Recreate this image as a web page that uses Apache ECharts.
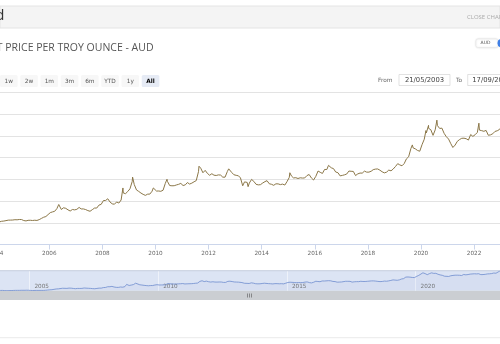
<!DOCTYPE html>
<html><head><meta charset="utf-8">
<script src="https://cdn.jsdelivr.net/npm/echarts@6/dist/echarts.min.js"></script>
<style>html,body{margin:0;padding:0;background:#fff;overflow:hidden}#c{width:500px;height:344px;}</style>
</head><body><div id="c"></div>
<script>
// ---------- DATA ----------
const firstDate = '2003-05-21';
const lastDate = '2023-09-17';
// Gold price per troy ounce in AUD, one reading per month (2003-05 .. 2023-09)
const prices2003 = [545,531,528,553,566,541,548,552];
const prices2004 = [537,519,534,539,549,560,561,563,570,568,575,574];
const prices2005 = [551,542,556,557,552,558,553,572,600,627,643,688];
const prices2006 = [733,750,763,824,900,805,844,832,797,770,805,796];
const prices2007 = [809,853,818,818,804,780,764,801,838,838,906,923];
const prices2008 = [1010,1013,1052,977,935,926,978,953,1023,1185,1169,1218];
const prices2009 = [1280,1450,1379,1254,1221,1183,1153,1130,1158,1159,1225,1261];
const prices2010 = [1229,1230,1223,1248,1401,1449,1356,1350,1352,1369,1384,1405];
const prices2011 = [1356,1372,1424,1390,1411,1442,1469,1675,1754,1650,1705,1636];
const prices2012 = [1592,1628,1594,1587,1601,1596,1548,1549,1677,1696,1656,1604];
const prices2013 = [1591,1580,1532,1350,1428,1428,1413,1497,1451,1385,1371,1376];
const prices2014 = [1414,1446,1468,1397,1385,1361,1395,1394,1377,1389,1367,1446];
const prices2015 = [1543,1573,1531,1536,1518,1534,1528,1530,1585,1610,1530,1483];
const prices2016 = [1567,1690,1661,1634,1726,1724,1783,1764,1745,1667,1651,1578];
const prices2017 = [1589,1603,1620,1689,1684,1680,1585,1624,1643,1641,1687,1664];
const prices2018 = [1664,1685,1721,1734,1737,1709,1673,1647,1664,1711,1694,1736];
const prices2019 = [1793,1859,1831,1810,1861,1970,2017,2206,2221,2199,2162,2145];
const prices2020 = [2294,2420,2566,2671,2640,2510,2637,2733,2668,2676,2556,2479];
const prices2021 = [2425,2318,2231,2286,2372,2413,2442,2445,2432,2401,2529,2486];
const prices2022 = [2524,2578,2631,2618,2603,2624,2512,2521,2547,2600,2615,2644];
const prices2023 = [2711,2688,2854,2985,2971,2899,2869,2951,3000];
// intra-month highs / lows
const spikeDates  = ['2006-05-11','2008-03-17','2008-10-10','2009-02-20','2009-12-02','2010-06-08','2011-08-22','2011-09-06','2012-10-04','2013-04-03','2013-05-10','2013-06-28','2015-01-23','2016-07-08','2019-09-04','2020-03-09','2020-04-14','2020-08-07','2022-03-08'];
const spikePrices = [920,1095,1300,1550,1300,1500,1800,1815,1740,1530,1440,1330,1650,1820,2290,2620,2740,2860,2790];

const mainTickYears = [2002,2004,2006,2008,2010,2012,2014,2016,2018,2020,2022,2024];
const navTickYears = [2000,2005,2010,2015,2020,2025];
const yTicks = [0,500,1000,1500,2000,2500,3000,3500];
const rangeButtons = ['1w','2w','1m','3m','6m','YTD','1y','All'];
const fromText = '21/05/2003', toText = '17/09/2023';
const titleText = 'GOLD SPOT PRICE PER TROY OUNCE - AUD';

// ---------- BUILD ----------
function toYear(s){
  const p = s.split('-').map(Number);
  const t0 = Date.UTC(p[0],0,1), t1 = Date.UTC(p[0]+1,0,1);
  return p[0] + (Date.UTC(p[0],p[1]-1,p[2]) - t0)/(t1 - t0);
}
const yearly = [prices2003,prices2004,prices2005,prices2006,prices2007,prices2008,prices2009,prices2010,prices2011,prices2012,prices2013,prices2014,prices2015,prices2016,prices2017,prices2018,prices2019,prices2020,prices2021,prices2022,prices2023];
let pts = [];
yearly.forEach((arr, yi) => {
  const y = 2003 + yi;
  const m0 = (y === 2003) ? 5 : 1;
  arr.forEach((v, k) => {
    const m = m0 + k;
    let d = y + '-' + String(m).padStart(2,'0') + '-15';
    if (y === 2003 && k === 0) d = firstDate;
    if (y === 2023 && k === arr.length - 1) d = lastDate;
    pts.push([toYear(d), v]);
  });
});
spikeDates.forEach((d,i) => pts.push([toYear(d), spikePrices[i]]));
pts.sort((a,b) => a[0]-b[0]);

const chart = echarts.init(document.getElementById('c'), null, {renderer:'canvas'});
const lblFont = 'DejaVu Sans';
const graphics = [
  {type:'rect', shape:{x:0,y:6,width:500,height:22}, style:{fill:'#f4f4f4', stroke:'#e4e4e4', lineWidth:1}},
  {type:'text', x:4.5, y:23, style:{text:'Gold', fill:'#333', font:'15px "Open Sans"', textAlign:'right', textVerticalAlign:'bottom'}},
  {type:'text', x:467, y:17.5, style:{text:'CLOSE CHART', fill:'#aaa', font:'6px "Open Sans"', textAlign:'left', textVerticalAlign:'middle'}},
  {type:'text', x:153.5, y:48.5, style:{text:titleText, fill:'#555', font:'10.5px "Open Sans"', textAlign:'right', textVerticalAlign:'middle'}},
  {type:'rect', shape:{x:476,y:39,width:22,height:8.5,r:2}, style:{fill:'#fff', stroke:'#e6e6e6', lineWidth:0.5, shadowBlur:2, shadowColor:'rgba(0,0,0,0.15)'}},
  {type:'text', x:485.5, y:43.3, style:{text:'AUD', fill:'#555', font:'4.5px "DejaVu Sans"', textAlign:'center', textVerticalAlign:'middle'}},
  {type:'rect', shape:{x:497.5,y:39,width:12,height:8.5,r:4}, style:{fill:'#3f7fe6'}},
  {type:'text', x:378, y:80, style:{text:'From', fill:'#666', font:'5.8px "DejaVu Sans"', textAlign:'left', textVerticalAlign:'middle'}},
  {type:'rect', shape:{x:399,y:74.5,width:51,height:11}, style:{fill:'#fff', stroke:'#d5d5d5', lineWidth:0.7}},
  {type:'text', x:424.5, y:80.3, style:{text:fromText, fill:'#444', font:'6.8px "DejaVu Sans"', textAlign:'center', textVerticalAlign:'middle'}},
  {type:'text', x:456, y:80, style:{text:'To', fill:'#666', font:'5.8px "DejaVu Sans"', textAlign:'left', textVerticalAlign:'middle'}},
  {type:'rect', shape:{x:467.7,y:74.5,width:51,height:11}, style:{fill:'#fff', stroke:'#d5d5d5', lineWidth:0.7}},
  {type:'text', x:472.3, y:80.3, style:{text:toText, fill:'#444', font:'6.8px "DejaVu Sans"', textAlign:'left', textVerticalAlign:'middle'}},
  {type:'rect', shape:{x:0,y:290.7,width:500,height:9.3}, style:{fill:'#cbced2'}},
  {type:'line', shape:{x1:247.5,y1:293.5,x2:247.5,y2:297.5}, style:{stroke:'#555', lineWidth:0.6}},
  {type:'line', shape:{x1:249.5,y1:293.5,x2:249.5,y2:297.5}, style:{stroke:'#555', lineWidth:0.6}},
  {type:'line', shape:{x1:251.5,y1:293.5,x2:251.5,y2:297.5}, style:{stroke:'#555', lineWidth:0.6}},
  {type:'line', shape:{x1:0,y1:270.7,x2:500,y2:270.7}, style:{stroke:'#b9c3d6', lineWidth:0.8}, z:100},
  {type:'line', shape:{x1:0,y1:337.7,x2:500,y2:337.7}, style:{stroke:'#ebebeb', lineWidth:1}}
];
rangeButtons.forEach((b,i) => {
  const cx = 8.8 + i*20.25;
  const sel = (b === 'All');
  graphics.push({type:'rect', shape:{x:cx-8.8,y:75,width:17.6,height:12,r:1.5}, style:{fill: sel ? '#e6ebf5' : '#f7f7f7'}});
  graphics.push({type:'text', x:cx, y:81.3, style:{text:b, fill: sel ? '#000' : '#555', font:(sel?'bold ':'') + '5.8px "DejaVu Sans"', textAlign:'center', textVerticalAlign:'middle'}});
});

chart.setOption({
  animation:false,
  backgroundColor:'#fff',
  grid:[
    {left:-56.9, width:584.1, top:92.3, height:152.2, outerBoundsMode:'none', containLabel:false},
    {left:-99.2, width:643.5, top:270.7, height:20, outerBoundsMode:'none', containLabel:false, show:true, backgroundColor:'#dce4f4', borderWidth:0}
  ],
  xAxis:[
    {type:'value', gridIndex:0, min:mainTickYears[0], max:mainTickYears[mainTickYears.length-1], interval:2,
     axisLine:{show:true, lineStyle:{color:'#ccd6eb', width:1}},
     axisTick:{show:true, length:5, lineStyle:{color:'#ccd6eb'}},
     axisLabel:{show:true, margin:6, color:'#666', fontSize:5.7, fontFamily:lblFont, formatter:v=>String(v)},
     splitLine:{show:false}},
    {type:'value', gridIndex:1, min:navTickYears[0], max:navTickYears[navTickYears.length-1], interval:5,
     axisLine:{show:false}, axisTick:{show:false},
     axisLabel:{show:true, inside:true, margin:1, align:'left', padding:[0,0,0,5], verticalAlign:'bottom', color:'#777', fontSize:5.7, fontFamily:lblFont, formatter:v=>String(v)},
     splitLine:{show:true, lineStyle:{color:'#eef2fa', width:1}}}
  ],
  yAxis:[
    {type:'value', gridIndex:0, min:yTicks[0], max:yTicks[yTicks.length-1], interval:500,
     axisLine:{show:false}, axisTick:{show:false}, axisLabel:{show:false},
     splitLine:{show:true, lineStyle:{color:'#e3e3e3', width:1}}},
    {type:'value', gridIndex:1, min:'dataMin', max:'dataMax', show:false, splitLine:{show:false}}
  ],
  graphic: graphics,
  series:[
    {type:'line', xAxisIndex:0, yAxisIndex:0, data:pts, showSymbol:false, symbol:'none',
     lineStyle:{color:'#8b7748', width:1}, silent:true},
    {type:'line', xAxisIndex:1, yAxisIndex:1, data:pts, showSymbol:false, symbol:'none',
     lineStyle:{color:'#6d8cce', width:0.8}, areaStyle:{color:'rgba(51,92,173,0.05)'}, silent:true}
  ]
});
</script></body></html>
